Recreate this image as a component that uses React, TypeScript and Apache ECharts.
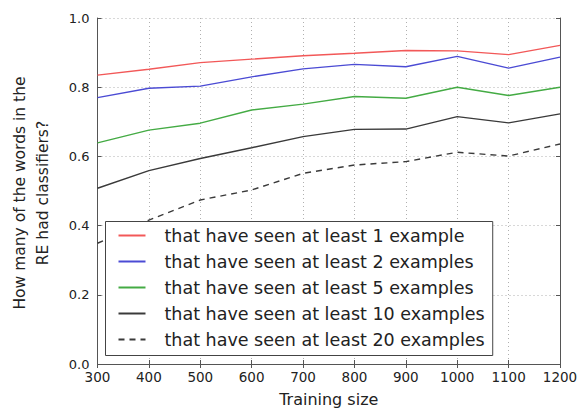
import React, { useEffect, useRef } from "react";
import * as echarts from "echarts";

const trainingSizes = [300, 400, 500, 600, 700, 800, 900, 1000, 1100, 1200];
const seenAtLeast1 = [0.835, 0.852, 0.871, 0.881, 0.891, 0.898, 0.906, 0.905, 0.894, 0.921];
const seenAtLeast2 = [0.77, 0.797, 0.803, 0.83, 0.853, 0.866, 0.859, 0.889, 0.855, 0.887];
const seenAtLeast5 = [0.639, 0.676, 0.696, 0.734, 0.751, 0.773, 0.768, 0.8, 0.776, 0.8];
const seenAtLeast10 = [0.508, 0.559, 0.594, 0.625, 0.657, 0.678, 0.679, 0.715, 0.697, 0.723];
const seenAtLeast20 = [0.349, 0.416, 0.474, 0.503, 0.551, 0.575, 0.585, 0.612, 0.601, 0.636];

const seriesNames = [
  "that have seen at least 1 example",
  "that have seen at least 2 examples",
  "that have seen at least 5 examples",
  "that have seen at least 10 examples",
  "that have seen at least 20 examples",
];
const seriesValues = [seenAtLeast1, seenAtLeast2, seenAtLeast5, seenAtLeast10, seenAtLeast20];
const seriesColors = ["#f25858", "#4b4bd4", "#44ab44", "#3a3a3a", "#3a3a3a"];
const seriesDash = ["solid", "solid", "solid", "solid", [6, 5]];

const FONT = "DejaVu Sans";
const FRAME = "#555555";

export default function App() {
  const ref = useRef<HTMLDivElement>(null);

  useEffect(() => {
    if (!ref.current) return;
    const chart = echarts.init(ref.current, null, { renderer: "svg" });

    const frameAxis = {
      axisLine: { show: true, lineStyle: { color: FRAME, width: 1 } },
      axisTick: { show: true, inside: true, length: 4, lineStyle: { color: FRAME } },
      splitLine: { show: false },
    };
    const gridLine = { show: true, lineStyle: { color: "#b0b0b0", type: [1, 3], width: 1 } };

    chart.setOption({
      animation: false,
      backgroundColor: "#ffffff",
      textStyle: { fontFamily: FONT },
      grid: { left: 97.5, right: 24, top: 18, bottom: 49, containLabel: false },
      xAxis: [
        {
          type: "value",
          min: 300,
          max: 1200,
          interval: 100,
          position: "bottom",
          name: "Training size",
          nameLocation: "middle",
          nameGap: 27,
          nameTextStyle: { fontFamily: FONT, fontSize: 16, color: "#222" },
          ...frameAxis,
          splitLine: gridLine,
          axisLabel: {
            fontFamily: FONT,
            fontSize: 13.5,
            color: "#222",
            margin: 6,
            formatter: (v: number) => String(v),
          },
        },
        {
          type: "value",
          min: 300,
          max: 1200,
          interval: 100,
          position: "top",
          ...frameAxis,
          axisLabel: { show: false },
        },
      ],
      yAxis: [
        {
          type: "value",
          min: 0,
          max: 1,
          interval: 0.2,
          position: "left",
          ...frameAxis,
          splitLine: gridLine,
          axisLabel: {
            fontFamily: FONT,
            fontSize: 13,
            color: "#222",
            margin: 8,
            formatter: (v: number) => v.toFixed(1),
          },
        },
        {
          type: "value",
          min: 0,
          max: 1,
          interval: 0.2,
          position: "right",
          ...frameAxis,
          axisLabel: { show: false },
        },
      ],
      legend: {
        orient: "vertical",
        left: 105.5,
        top: 221.5,
        padding: [5, 8, 7, 12],
        itemWidth: 27,
        itemHeight: 14,
        itemGap: 8,
        backgroundColor: "#ffffff",
        borderColor: "#444444",
        borderWidth: 1,
        borderRadius: 0,
        itemStyle: { opacity: 0 },
        textStyle: {
          fontFamily: FONT,
          fontSize: 17.5,
          color: "#222",
          padding: [0, 0, 0, 14],
        },
        data: seriesNames,
      },
      graphic: [
        {
          type: "text",
          x: 31.5,
          y: 193,
          rotation: Math.PI / 2,
          style: {
            text: "How many of the words in the\nRE had classifiers?",
            fontFamily: FONT,
            fontSize: 15.5,
            lineHeight: 23,
            fill: "#222",
            align: "center",
            verticalAlign: "middle",
          },
        },
      ],
      series: seriesNames.map((name, i) => ({
        name,
        type: "line",
        showSymbol: false,
        symbol: "none",
        data: trainingSizes.map((x, j) => [x, seriesValues[i][j]]),
        lineStyle: { color: seriesColors[i], width: 1.4, type: seriesDash[i] },
        itemStyle: { color: seriesColors[i] },
      })),
    });

    return () => chart.dispose();
  }, []);

  return (
    <div
      ref={ref}
      style={{ position: "fixed", left: 0, top: 0, width: 584, height: 413 }}
    />
  );
}
